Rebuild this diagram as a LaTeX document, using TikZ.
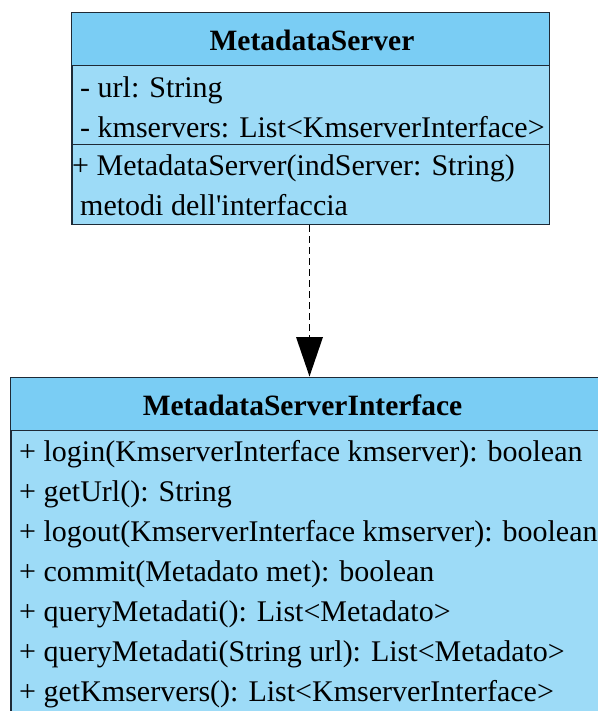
\documentclass[tikz,border=0pt]{standalone}
\usepackage{fontspec}
\newfontfamily\umltimes{Liberation Serif}
\definecolor{umlhead}{HTML}{7ACDF4}
\definecolor{umlbody}{HTML}{9DDBF7}
\definecolor{umlline}{HTML}{1E2A36}
\newcommand\memberfont{\fontsize{30}{36}\selectfont\umltimes}
\newcommand\titlefont{\fontsize{29.5}{36}\selectfont\umltimes\bfseries}
\begin{document}
\begin{tikzpicture}[x=1pt,y=-1pt,
  classbox/.style={draw=umlline, line width=1pt, fill=umlbody, rectangle, inner sep=0pt, anchor=north west},
  member/.style={anchor=base west, inner sep=0pt},
  classname/.style={anchor=base, inner sep=0pt},
  sep/.style={draw=umlline, line width=1pt},
  realize/.style={draw=black, line width=0.8pt, dash pattern=on 7pt off 4pt}]
  \useasboundingbox (0,0) rectangle (597,711);

  % MetadataServer class
  \node[classbox, minimum width=477.5pt, minimum height=211.5pt] (ms) at (71.5,12.5) {};
  \fill[umlhead] (71.5,12.5) rectangle (549,66);
  \draw[sep] (71.5,66) -- (549,66);
  \draw[sep] (71.5,144.5) -- (549,144.5);
  \draw[umlline, line width=1pt] (71.5,12.5) rectangle (549,224);
  \node[classname] (msname) at (312,50.5) {\titlefont MetadataServer};
  \node[member] (msa1) at (80,97.3) {\memberfont - url: String};
  \node[member] (msa2) at (80,137.3) {\memberfont - kmservers: List\textless KmserverInterface\textgreater};
  \node[member] (msm1) at (72,176) {\memberfont + MetadataServer(indServer: String)};
  \node[member] (msm2) at (80,215) {\memberfont metodi dell\char"27 interfaccia};

  % MetadataServerInterface class (runs past the right and bottom edges)
  \node[classbox, minimum width=640pt, minimum height=380pt] (msi) at (10.5,377) {};
  \fill[umlhead] (10.5,377) rectangle (650.5,430.5);
  \draw[sep] (10.5,430.5) -- (650.5,430.5);
  \draw[umlline, line width=1pt] (10.5,377) rectangle (650.5,757);
  \node[classname] (msiname) at (302.5,415) {\titlefont MetadataServerInterface};
  \node[member] (op1) at (19,461.7) {\memberfont + login(KmserverInterface kmserver): boolean};
  \node[member] (op2) at (19,501.7) {\memberfont + getUrl(): String};
  \node[member] (op3) at (19,541.7) {\memberfont + logout(KmserverInterface kmserver): boolean};
  \node[member] (op4) at (19,581.7) {\memberfont + commit(Metadato met): boolean};
  \node[member] (op5) at (19,621.7) {\memberfont + queryMetadati(): List\textless Metadato\textgreater};
  \node[member] (op6) at (19,661.7) {\memberfont + queryMetadati(String url): List\textless Metadato\textgreater};
  \node[member] (op7) at (19,701.7) {\memberfont + getKmservers(): List\textless KmserverInterface\textgreater};

  % realization: dashed line ending in a filled triangle on the interface
  \coordinate (headbase) at (309.5,337);
  \coordinate (headleft) at (296,337);
  \coordinate (headright) at (323,337);
  \coordinate (headtip) at (309.5,376.5);
  \draw[realize] (ms.south -| headbase) -- (headbase);
  \fill[black] (headleft) -- (headright) -- (headtip) -- cycle;
\end{tikzpicture}
\end{document}
